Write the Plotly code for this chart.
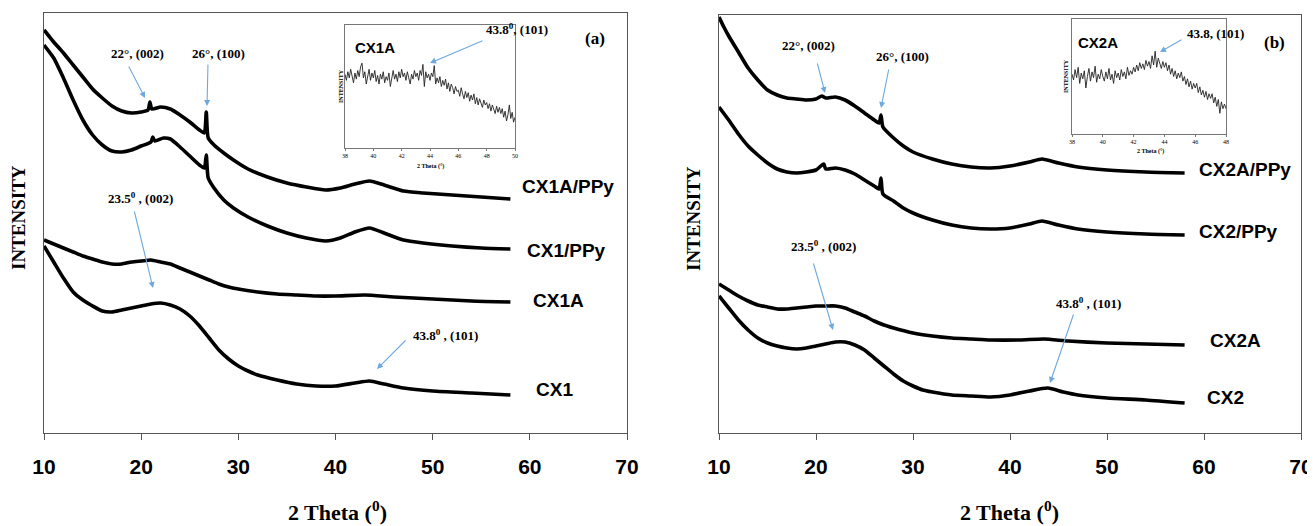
import plotly.graph_objects as go

W, H = 1315, 526
OX, OY = 8, 8  # page body margin

# ---------------- Panel (a) data ----------------
cx1a_ppy_theta = [10, 10.5, 11, 12, 13, 14, 15, 16, 17, 18, 19, 20, 20.7, 20.9, 21.1, 22, 23, 24, 25, 26, 26.5, 26.7, 26.9,
                  27.5, 28.5, 29.5, 31, 33, 35, 37, 39, 40.5, 42, 43.5, 45, 47, 49, 52, 55, 58]
cx1a_ppy_int = [403, 397, 391, 380, 368, 356, 344, 335, 327, 322, 320, 321, 323, 331, 324, 326, 324, 318, 311, 303, 300, 321, 295,
                288, 280, 273, 264, 256, 250, 246, 243, 245, 249, 252, 248, 242, 240, 238, 236, 234]

cx1_ppy_theta = [10, 11, 12, 13, 14, 15, 16, 17, 18, 19, 20, 21, 21.2, 21.4, 22.3, 23, 24, 25, 26, 26.5, 26.7, 26.9,
                 27.5, 28.5, 29.5, 31, 33, 35, 37, 39, 40.5, 42, 43.5, 45, 47, 49, 52, 55, 58]
cx1_ppy_int = [388, 375, 355, 333, 313, 298, 288, 282, 281, 283, 287, 291, 296, 292, 295, 294, 286, 277, 268, 265, 278, 255,
               245, 233, 225, 216, 207, 200, 195, 192, 195, 201, 205, 200, 193, 190, 187, 185, 184]

cx1a_theta = [10, 11, 12, 13, 14, 15, 16, 17, 18, 19, 20, 21, 22, 23, 24, 25, 26, 27, 28, 29, 30, 32, 34, 36, 38, 40, 43, 46, 50, 54, 58]
cx1a_int = [193, 189, 185, 181, 177, 174, 171, 169, 169, 171, 172, 173, 171, 169, 165, 161, 157, 153, 149, 146, 144, 141, 139, 138, 137, 137, 138, 136, 134, 132, 131]

cx1_theta = [10, 11, 12, 13, 14, 15, 16, 17, 18, 19, 20, 21, 22, 23, 24, 25, 26, 27, 28, 29, 30, 31, 32, 34, 36, 38, 40, 42, 43.5, 45, 47, 50, 54, 58]
cx1_int = [187, 171, 155, 141, 133, 127, 122, 121, 123, 125, 127, 129, 130, 128, 124, 117, 107, 95, 83, 74, 67, 62, 58, 53, 49, 47, 47, 50, 52, 49, 45, 42, 40, 38]

# ---------------- Panel (b) data ----------------
cx2a_ppy_theta = [10, 10.5, 11, 12, 13, 14, 15, 16, 17, 18, 19, 20, 20.6, 21, 22, 23, 24, 25, 26, 26.5, 26.7, 26.9,
                  28, 29, 30, 32, 34, 36, 38, 40, 42, 43.3, 45, 47, 50, 54, 58]
cx2a_ppy_int = [416, 406, 397, 381, 365, 353, 343, 338, 335, 334, 333, 334, 337, 335, 336, 333, 327, 320, 313, 310, 318, 306,
                295, 287, 281, 274, 269, 266, 265, 267, 271, 274, 270, 266, 263, 261, 260]

cx2_ppy_theta = [10, 11, 12, 13, 14, 15, 16, 17, 18, 19, 20, 20.8, 21, 22, 23, 24, 25, 26, 26.5, 26.7, 26.9,
                 28, 29, 30, 32, 34, 36, 38, 40, 42, 43.3, 45, 47, 50, 54, 58]
cx2_ppy_int = [326, 313, 299, 287, 278, 270, 264, 261, 260, 261, 263, 269, 264, 265, 263, 259, 253, 247, 244, 255, 239,
               232, 225, 220, 213, 208, 205, 204, 205, 209, 212, 208, 204, 201, 199, 198]

cx2a_theta = [10, 11, 12, 13, 14, 15, 16, 17, 18, 19, 20, 21, 22, 23, 24, 25, 26, 27, 28, 30, 32, 34, 36, 38, 41, 43.5, 46, 50, 54, 58]
cx2a_int = [149, 143, 137, 132, 128, 126, 124, 124, 125, 126, 127, 127, 127, 125, 121, 117, 112, 108, 105, 100, 97, 95, 94, 93, 93, 94, 92, 90, 89, 88]

cx2_theta = [10, 11, 12, 13, 14, 15, 16, 17, 18, 19, 20, 21, 22, 23, 24, 25, 26, 27, 28, 29, 30, 31, 32, 34, 36, 38, 40, 42, 43.9, 45.5, 47, 50, 54, 58]
cx2_int = [137, 125, 113, 103, 95, 90, 87, 85, 84, 85, 87, 89, 91, 91, 88, 83, 75, 67, 59, 52, 47, 43, 41, 38, 37, 36, 38, 42, 45, 41, 38, 35, 33, 30]

# ---------------- Inset data ----------------
inset_a_theta = [38 + 0.1 * i for i in range(121)]
inset_a_int = [60, 55, 62, 57, 64, 58, 53, 61, 56, 63,
               58, 66, 69, 57, 62, 52, 60, 64, 55, 61,
               57, 63, 54, 59, 52, 60, 56, 62, 53, 58,
               55, 61, 50, 57, 63, 56, 60, 54, 62, 57,
               64, 58, 61, 55, 62, 57, 52, 60, 56, 63,
               58, 61, 55, 63, 59, 68, 50, 62, 57, 60,
               55, 61, 58, 67, 52, 57, 53, 58, 50, 55,
               51, 56, 48, 53, 46, 52, 49, 44, 50, 46,
               47, 42, 49, 44, 40, 46, 41, 45, 38, 43,
               39, 44, 36, 41, 35, 40, 37, 33, 39, 35,
               37, 32, 36, 30, 35, 31, 28, 34, 29, 33,
               28, 32, 25, 30, 22, 27, 35, 24, 29, 21,
               25]

inset_b_theta = [38 + 0.1 * i for i in range(101)]
inset_b_int = [52, 47, 56, 49, 58, 44, 53, 48, 55, 40,
               50, 57, 46, 54, 49, 59, 45, 52, 48, 56,
               50, 46, 54, 48, 57, 47, 52, 44, 55, 49,
               53, 47, 56, 50, 54, 48, 58, 51, 55, 52,
               58, 54, 60, 55, 62, 57, 61, 56, 64, 59,
               63, 57, 68, 60, 72, 58, 66, 61, 57, 63,
               58, 62, 55, 60, 52, 57, 50, 55, 48, 53,
               49, 54, 46, 50, 43, 48, 41, 46, 39, 44,
               40, 44, 36, 41, 34, 38, 32, 37, 30, 35,
               31, 35, 27, 32, 24, 30, 18, 28, 22, 26,
               22]

main_ticks = [10, 20, 30, 40, 50, 60, 70]
inset_a_ticks = [38, 40, 42, 44, 46, 48, 50]
inset_b_ticks = [38, 40, 42, 44, 46, 48]


def px(x):
    return (x - OX) / W


def py(y):
    return 1 - (y - OY) / H


fig = go.Figure()
LW = 3.6
for th, it in [(cx1a_ppy_theta, cx1a_ppy_int), (cx1_ppy_theta, cx1_ppy_int), (cx1a_theta, cx1a_int), (cx1_theta, cx1_int)]:
    fig.add_trace(go.Scatter(x=th, y=it, mode="lines", line=dict(color="black", width=LW, shape="spline", smoothing=0.6),
                             xaxis="x", yaxis="y", showlegend=False))
for th, it in [(cx2a_ppy_theta, cx2a_ppy_int), (cx2_ppy_theta, cx2_ppy_int), (cx2a_theta, cx2a_int), (cx2_theta, cx2_int)]:
    fig.add_trace(go.Scatter(x=th, y=it, mode="lines", line=dict(color="black", width=LW, shape="spline", smoothing=0.6),
                             xaxis="x2", yaxis="y2", showlegend=False))
fig.add_trace(go.Scatter(x=inset_a_theta, y=inset_a_int, mode="lines", line=dict(color="#222", width=0.9), xaxis="x3", yaxis="y3", showlegend=False))
fig.add_trace(go.Scatter(x=inset_b_theta, y=inset_b_int, mode="lines", line=dict(color="#222", width=0.9), xaxis="x4", yaxis="y4", showlegend=False))

AX = "#555555"
tickfont = dict(family="Liberation Sans, Arial", size=21, color="black", weight="bold")


def main_x(domain, anchor):
    return dict(domain=domain, anchor=anchor, range=[10, 70], tickvals=main_ticks, ticks="outside", ticklen=6,
                tickcolor=AX, showline=True, linecolor=AX, linewidth=1.2, mirror=True, showgrid=False, zeroline=False,
                tickfont=tickfont, ticklabelstandoff=9, automargin=False)


def main_y(domain, anchor, top):
    return dict(domain=domain, anchor=anchor, range=[0, top], showticklabels=False, ticks="", showline=True,
                linecolor=AX, linewidth=1.2, mirror=True, showgrid=False, zeroline=False, automargin=False)


inset_font = dict(family="Liberation Serif, Times New Roman", size=6, color="black")


def inset_x(domain, anchor, rng, tv):
    return dict(domain=domain, anchor=anchor, range=rng, tickvals=tv, ticks="outside", ticklen=2, tickcolor="#777",
                showline=True, linecolor="#777", linewidth=0.8, mirror=True, showgrid=False, zeroline=False,
                tickfont=inset_font, automargin=False)


def inset_y(domain, anchor):
    return dict(domain=domain, anchor=anchor, range=[0, 100], showticklabels=False, ticks="", showline=True,
                linecolor="#777", linewidth=0.8, mirror=True, showgrid=False, zeroline=False, automargin=False)


fig.update_layout(
    width=W, height=H, margin=dict(l=0, r=0, t=0, b=0, pad=0, autoexpand=False),
    paper_bgcolor="white", plot_bgcolor="rgba(0,0,0,0)",
    xaxis=main_x([px(44), px(627)], "y"),
    yaxis=main_y([py(433), py(13)], "x", 420),
    xaxis2=main_x([px(719), px(1301)], "y2"),
    yaxis2=main_y([py(433), py(15)], "x2", 418),
    xaxis3=inset_x([px(345), px(515)], "y3", [38, 50], inset_a_ticks),
    yaxis3=inset_y([py(148), py(25)], "x3"),
    xaxis4=inset_x([px(1072), px(1226)], "y4", [38, 48], inset_b_ticks),
    yaxis4=inset_y([py(134), py(19)], "x4"),
)

ann = []
serif = "Liberation Serif, Times New Roman"
sans = "Liberation Sans, Arial"


def text(x, y, s, size, family=serif, bold=True, anchor="center", angle=0, color="black"):
    ann.append(dict(xref="paper", yref="paper", x=px(x), y=py(y), text=("<b>%s</b>" % s) if bold else s,
                    showarrow=False, xanchor=anchor, yanchor="middle", textangle=angle,
                    font=dict(family=family, size=size, color=color)))


def arrow(tail, head):
    ann.append(dict(xref="paper", yref="paper", x=px(head[0]), y=py(head[1]), text="", showarrow=True,
                    ax=tail[0] - head[0], ay=tail[1] - head[1], arrowcolor="#6FA8DC", arrowwidth=1.1,
                    arrowhead=2, arrowsize=1.1))


# axis titles
text(19, 218, "INTENSITY", 19, angle=-90)
text(694, 218, "INTENSITY", 19, angle=-90)
text(337, 511, "2 Theta (<sup>0</sup>)", 22)
text(1009, 511, "2 Theta (<sup>0</sup>)", 22)

# panel (a) annotations
text(137, 53, "22°, (002)", 13)
text(218, 53, "26°, (100)", 13)
text(140, 198, "23.5<sup>0</sup> , (002)", 13)
text(445, 335, "43.8<sup>0</sup> , (101)", 13)
text(517, 29, "43.8<sup>0</sup>, (101)", 13)
text(595, 38, "(a)", 17)
text(375, 48, "CX1A", 15, family=sans)
arrow((128, 65), (145, 98))
arrow((208, 63), (207, 106))
arrow((134, 210), (153, 288))
arrow((407, 339), (377, 369))
arrow((484, 40), (430, 63))

# panel (b) annotations
text(808, 46, "22°, (002)", 13)
text(902, 57, "26°, (100)", 13)
text(823, 246, "23.5<sup>0</sup> , (002)", 13)
text(1088, 303, "43.8<sup>0</sup> , (101)", 13)
text(1215, 34, "43.8, (101)", 13)
text(1274, 43, "(b)", 17)
text(1098, 43, "CX2A", 15, family=sans)
arrow((817, 62), (825, 93))
arrow((889, 68), (881, 108))
arrow((813, 262), (833, 330))
arrow((1074, 313), (1050, 383))
arrow((1183, 39), (1160, 52))

# series labels
for x, y, s in [(520, 187, "CX1A/PPy"), (525, 250, "CX1/PPy"), (531, 300, "CX1A"), (534, 389, "CX1"),
                (1197, 169, "CX2A/PPy"), (1197, 231, "CX2/PPy"), (1208, 340, "CX2A"), (1205, 397, "CX2")]:
    text(x, y, s, 19, family=sans, bold=True, anchor="left")

# inset axis titles
text(430, 166, "2 Theta (°)", 6)
text(1150, 151, "2 Theta (°)", 6)
text(341, 86, "INTENSITY", 6, angle=-90)
text(1066, 76, "INTENSITY", 6, angle=-90)

fig.update_layout(annotations=ann)
fig.write_html("out.html")
